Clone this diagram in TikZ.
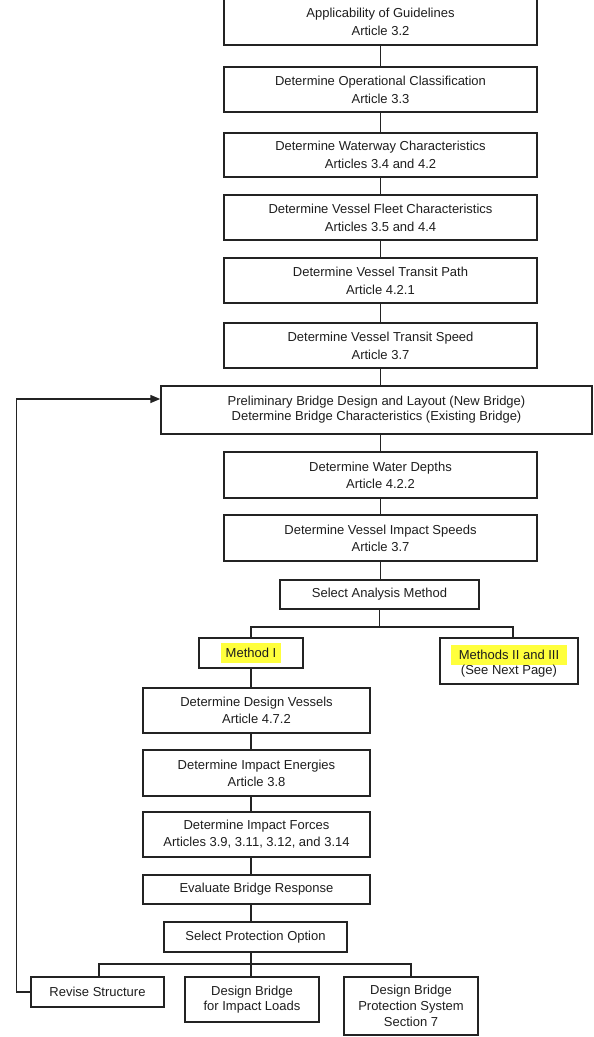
\documentclass[tikz,border=0pt]{standalone}
\usepackage{fontspec}
\setmainfont{Liberation Sans}
\usetikzlibrary{arrows.meta}
\definecolor{ln}{HTML}{232323}
\definecolor{tx}{HTML}{1E1E1E}
\definecolor{hly}{HTML}{FFFF3C}
\newcommand\hlt[2]{{\setlength{\fboxsep}{0pt}\colorbox{hly}{\rule[-5.5pt]{0pt}{20pt}\hspace{#1}#2\hspace{#1}}}}
\begin{document}
\begin{tikzpicture}[x=1pt,y=-1pt,
  box/.style={draw=ln, line width=1.5pt, fill=white, text=tx, align=center, inner sep=0pt,
              font=\fontsize{13}{18}\selectfont},
  tight/.style={font=\fontsize{13}{15}\selectfont},
  mid/.style={font=\fontsize{13}{17}\selectfont},
  conn/.style={draw=ln, line width=1.5pt}]
\useasboundingbox (0,0) rectangle (594,1037);
\fill[white] (0,0) rectangle (594,1037);

% main column
\node[box, minimum width=313pt, minimum height=47pt] (b1) at (380.5,21.5) {Applicability of Guidelines\\Article 3.2};
\node[box, minimum width=313pt, minimum height=45pt] (b2) at (380.5,89.5) {Determine Operational Classification\\Article 3.3};
\node[box, minimum width=313pt, minimum height=44pt] (b3) at (380.5,155) {Determine Waterway Characteristics\\Articles 3.4 and 4.2};
\node[box, minimum width=313pt, minimum height=45pt] (b4) at (380.5,217.5) {Determine Vessel Fleet Characteristics\\Articles 3.5 and 4.4};
\node[box, minimum width=313pt, minimum height=45pt] (b5) at (380.5,280.5) {Determine Vessel Transit Path\\Article 4.2.1};
\node[box, minimum width=313pt, minimum height=45pt] (b6) at (380.5,345.5) {Determine Vessel Transit Speed\\Article 3.7};
\node[box, tight, minimum width=431pt, minimum height=48pt] (pr) at (376.5,410) {Preliminary Bridge Design and Layout (New Bridge)\\Determine Bridge Characteristics (Existing Bridge)};
\node[box, mid, minimum width=313pt, minimum height=46pt] (wd) at (380.5,475) {Determine Water Depths\\Article 4.2.2};
\node[box, mid, minimum width=313pt, minimum height=46pt] (is) at (380.5,538) {Determine Vessel Impact Speeds\\Article 3.7};
\node[box, minimum width=199pt, minimum height=29pt] (sa) at (379.5,594.5) {Select Analysis Method};

% methods
\node[box, minimum width=104pt, minimum height=30pt] (m1) at (251,653) {\hlt{5pt}{Method I}};
\node[box, tight, minimum width=138pt, minimum height=46pt] (m2) at (509,661) {\hlt{8pt}{Methods II and III}\\(See Next Page)};

% lower column
\node[box, mid, minimum width=227pt, minimum height=45pt] (dv) at (256.5,710.5) {Determine Design Vessels\\Article 4.7.2};
\node[box, mid, minimum width=227pt, minimum height=46pt] (ie) at (256.5,773) {Determine Impact Energies\\Article 3.8};
\node[box, mid, minimum width=227pt, minimum height=45pt] (if) at (256.5,834.5) {Determine Impact Forces\\Articles 3.9, 3.11, 3.12, and 3.14};
\node[box, minimum width=227pt, minimum height=29pt] (eb) at (256.5,889.5) {Evaluate Bridge Response};
\node[box, minimum width=183pt, minimum height=30pt] (sp) at (255.5,937) {Select Protection Option};

% bottom row
\node[box, minimum width=133pt, minimum height=30pt] (rv) at (97.5,992) {Revise Structure};
\node[box, tight, minimum width=134pt, minimum height=45pt] (il) at (252,999.5) {Design Bridge\\for Impact Loads};
\node[box, font=\fontsize{13}{16}\selectfont, minimum width=134pt, minimum height=58pt] (ps) at (411,1006) {Design Bridge\\Protection System\\Section 7};

% connectors main column
\draw[conn] (b1) -- (b2);
\draw[conn] (b2) -- (b3);
\draw[conn] (b3) -- (b4);
\draw[conn] (b4) -- (b5);
\draw[conn] (b5) -- (b6);
\draw[conn] (b6.south) -- (b6.south |- pr.north);
\draw[conn] (pr.south -| wd.north) -- (wd.north);
\draw[conn] (wd) -- (is);
\draw[conn] (is.south) -- (is.south |- sa.north);

% analysis branch
\draw[conn] (sa.south) -- ++(0,17) coordinate (sa1);
\draw[conn] (m1.north) |- (sa1) -| ([xshift=4pt]m2.north);

% lower chain
\draw[conn] (m1.south) -- (m1.south |- dv.north);
\draw[conn] (dv.south -| m1.south) -- (ie.north -| m1.south);
\draw[conn] (ie.south -| m1.south) -- (if.north -| m1.south);
\draw[conn] (if.south -| m1.south) -- (eb.north -| m1.south);
\draw[conn] (eb.south -| m1.south) -- (sp.north -| m1.south);

% protection branch
\draw[conn] (sp.south -| m1.south) -- ++(0,11) coordinate (sp1);
\draw[conn] ([xshift=1.5pt]rv.north) |- (sp1) -| (ps.north);
\draw[conn] (sp1) -- (sp1 |- il.north);

% loop back
\draw[conn, -{Triangle[length=10pt,width=8pt]}] (rv.west) -- ++(-14,0) |- ([yshift=11pt]pr.west);
\end{tikzpicture}
\end{document}
